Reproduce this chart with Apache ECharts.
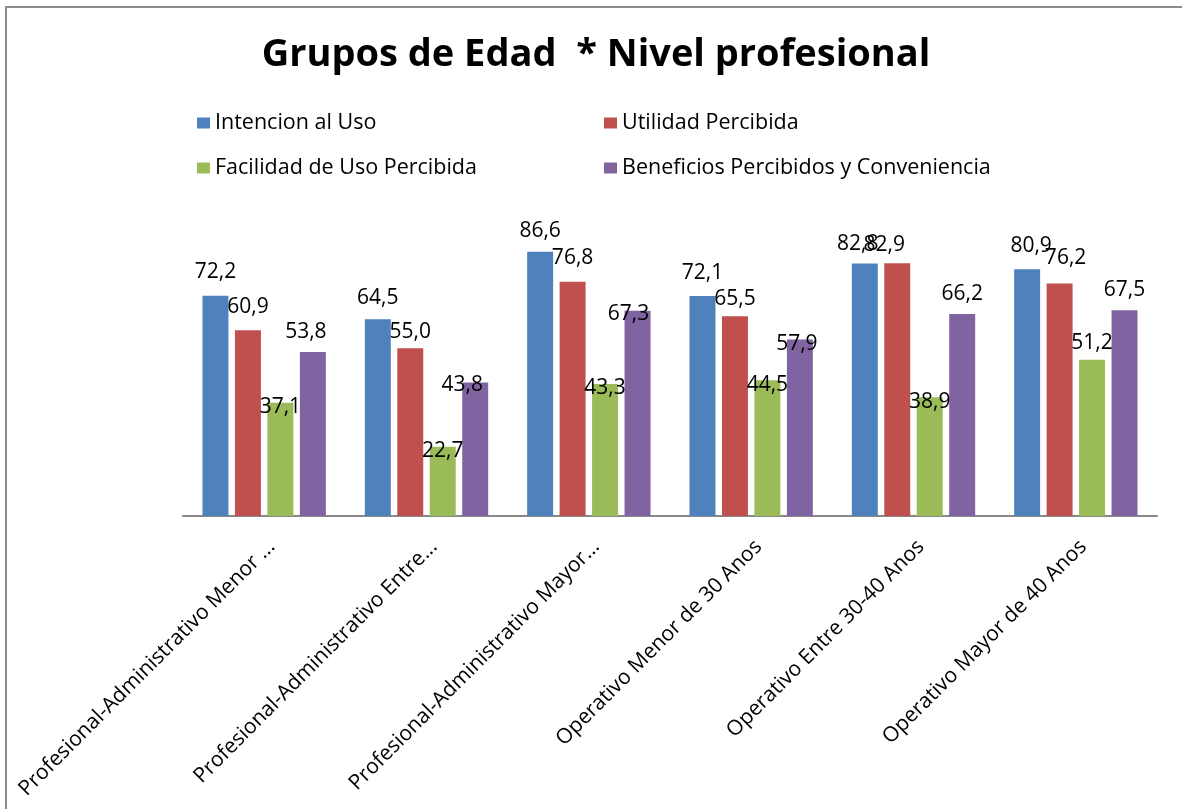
<!DOCTYPE html>
<html>
<head>
<meta charset="utf-8">
<script src="https://cdn.jsdelivr.net/npm/echarts@6/dist/echarts.min.js"></script>
<style>
html,body{margin:0;padding:0;background:#fff;}
#chart{width:1182px;height:809px;}
</style>
</head>
<body>
<div id="chart"></div>
<script>
const titleText = "Grupos de Edad  * Nivel profesional";
const categories = [
  "Profesional-Administrativo Menor ...",
  "Profesional-Administrativo Entre...",
  "Profesional-Administrativo Mayor...",
  "Operativo Menor de 30 Anos",
  "Operativo Entre 30-40 Anos",
  "Operativo Mayor de 40 Anos"
];
const seriesNames = [
  "Intencion al Uso",
  "Utilidad Percibida",
  "Facilidad de Uso Percibida",
  "Beneficios Percibidos y Conveniencia"
];
const intencion = [72.2, 64.5, 86.6, 72.1, 82.8, 80.9];
const utilidad = [60.9, 55.0, 76.8, 65.5, 82.9, 76.2];
const facilidad = [37.1, 22.7, 43.3, 44.5, 38.9, 51.2];
const beneficios = [53.8, 43.8, 67.3, 57.9, 66.2, 67.5];

// label nudges [dx, dy] (layout only, mimicking the original label placement)
const nudgeIntencion = [[0,0],[0,2],[0,3],[0,0],[-7,4],[4,0]];
const nudgeUtilidad = [[0,0],[0,7],[0,0],[0,6],[-13,5],[6,-2]];
const nudgeFacilidad = [[0,0],[0,0],[0,0],[0,0],[0,0],[0,-21]];
const nudgeBeneficios = [[-7,4],[-13,26],[-9,27],[-3,28],[0,3],[0,3]];

const colors = ['#4F81BD', '#C0504D', '#9BBB59', '#8064A2'];
const FONT = "'Open Sans', sans-serif";

function fmt(p) { return p.value.toFixed(1).replace('.', ','); }

function mk(name, values, nudges, color, labelDist) {
  return {
    name: name,
    type: 'bar',
    data: values.map(function (v, i) {
      return { value: v, label: { offset: nudges[i] } };
    }),
    barGap: '25%',
    barCategoryGap: '24%',
    itemStyle: { color: color },
    label: {
      show: true,
      position: 'top',
      distance: labelDist,
      formatter: fmt,
      color: '#000',
      fontFamily: FONT,
      fontSize: 21
    }
  };
}

const chart = echarts.init(document.getElementById('chart'), null, { renderer: 'canvas' });
chart.setOption({
  backgroundColor: '#fff',
  animation: false,
  color: colors,
  title: {
    text: titleText,
    left: 591,
    top: 31,
    textAlign: 'center',
    textStyle: { fontFamily: FONT, fontWeight: 'bold', fontSize: 38, color: '#000' }
  },
  legend: {
    left: 192,
    top: 107,
    width: 900,
    itemGap: 23,
    itemWidth: 13,
    itemHeight: 11,
    icon: 'rect',
    data: seriesNames,
    textStyle: { fontFamily: FONT, fontSize: 21.5, color: '#000', width: 366, height: 22, lineHeight: 22 }
  },
  grid: { left: 183, right: 25, top: 211, bottom: 293, containLabel: false },
  xAxis: {
    type: 'category',
    data: categories,
    axisLine: { lineStyle: { color: '#888', width: 2 } },
    axisTick: { show: false },
    axisLabel: {
      rotate: 45,
      interval: 0,
      margin: 20,
      verticalAlign: 'top',
      color: '#000',
      fontFamily: FONT,
      fontSize: 21
    }
  },
  yAxis: {
    type: 'value',
    min: 0,
    max: 100,
    show: false,
    splitLine: { show: false }
  },
  graphic: [{
    type: 'rect',
    shape: { x: 6, y: 7, width: 1200, height: 830 },
    style: { fill: 'none', stroke: '#8c8c8c', lineWidth: 2 },
    silent: true
  }],
  series: [
    mk(seriesNames[0], intencion, nudgeIntencion, colors[0], 13),
    mk(seriesNames[1], utilidad, nudgeUtilidad, colors[1], 13),
    mk(seriesNames[2], facilidad, nudgeFacilidad, colors[2], -15),
    mk(seriesNames[3], beneficios, nudgeBeneficios, colors[3], 13)
  ]
});
</script>
</body>
</html>
